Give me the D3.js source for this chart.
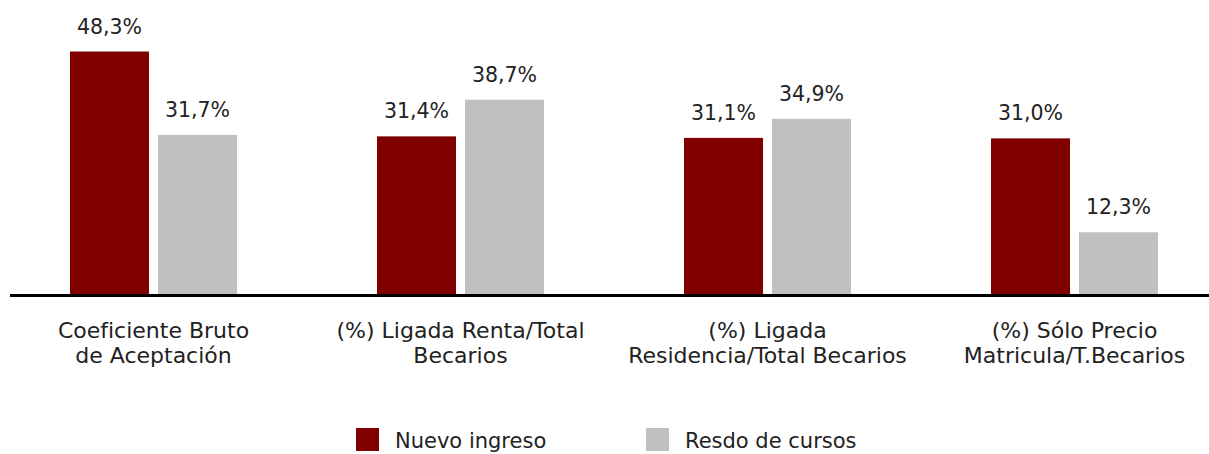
<!DOCTYPE html>
<html lang="es">
<head>
  <meta charset="UTF-8">
  <title>Becarios</title>
  <script src="https://d3js.org/d3.v7.min.js"></script>
  <style>
    body { margin: 0; background: #fff; }
    svg text { font-family: "DejaVu Sans", sans-serif; fill: #222; }
  </style>
</head>
<body>
  <div id="chart"></div>
  <script>
    // Data
    const categories = [
      ["Coeficiente Bruto", "de Aceptación"],
      ["(%) Ligada Renta/Total", "Becarios"],
      ["(%) Ligada", "Residencia/Total Becarios"],
      ["(%) Sólo Precio", "Matricula/T.Becarios"]
    ];
    const seriesNames = ["Nuevo ingreso", "Resdo de cursos"];
    const nuevoIngreso = [48.3, 31.4, 31.1, 31.0];
    const restoCursos = [31.7, 38.7, 34.9, 12.3];
    const colors = ["#800000", "#c0c0c0"];

    const width = 1209;
    const height = 454;
    const baseY = 294;

    const catKeys = categories.map((c, i) => i);
    const rows = catKeys.map(i => ({ i, values: [nuevoIngreso[i], restoCursos[i]] }));

    const svg = d3.select("#chart").append("svg")
        .attr("width", width)
        .attr("height", height);

    const x0 = d3.scaleBand().domain(catKeys).range([0, 1228]).padding(0);
    const x1 = d3.scaleBand().domain([0, 1]).range([70, 237]).paddingInner(0.102);
    const y = d3.scaleLinear().domain([0, 50]).range([baseY, baseY - 251]);

    const fmt = v => v.toFixed(1).replace(".", ",") + "%";

    const group = svg.append("g")
      .selectAll("g")
      .data(rows)
      .join("g")
        .attr("transform", d => `translate(${x0(d.i)},0)`);

    group.selectAll("rect")
      .data(d => d.values.map((v, s) => ({ v, s })))
      .join("rect")
        .attr("x", d => x1(d.s))
        .attr("width", x1.bandwidth())
        .attr("y", d => y(d.v))
        .attr("height", d => y(0) - y(d.v))
        .attr("fill", d => colors[d.s]);

    group.selectAll("text.val")
      .data(d => d.values.map((v, s) => ({ v, s })))
      .join("text")
        .attr("class", "val")
        .attr("x", d => x1(d.s) + x1.bandwidth() / 2)
        .attr("y", d => y(d.v) - 18)
        .attr("text-anchor", "middle")
        .attr("font-size", 20.5)
        .text(d => fmt(d.v));

    // baseline
    svg.append("line")
        .attr("x1", 10).attr("x2", width)
        .attr("y1", baseY + 1.5).attr("y2", baseY + 1.5)
        .attr("stroke", "#000")
        .attr("stroke-width", 3);

    // category labels
    svg.append("g")
      .selectAll("text")
      .data(rows)
      .join("text")
        .attr("text-anchor", "middle")
        .attr("font-size", 22)
        .attr("x", d => x0(d.i) + x0.bandwidth() / 2)
        .attr("y", 338)
      .selectAll("tspan")
      .data(d => categories[d.i])
      .join("tspan")
        .attr("x", function() { return d3.select(this.parentNode).attr("x"); })
        .attr("dy", (d, j) => j === 0 ? 0 : 25)
        .text(d => d);

    // legend
    const legendX = [356, 646];
    const legend = svg.append("g")
      .selectAll("g")
      .data(seriesNames)
      .join("g")
        .attr("transform", (d, i) => `translate(${legendX[i]},428)`);
    legend.append("rect")
        .attr("width", 23).attr("height", 23)
        .attr("fill", (d, i) => colors[i]);
    legend.append("text")
        .attr("x", 39).attr("y", 20)
        .attr("font-size", 21)
        .text(d => d);
  </script>
</body>
</html>
